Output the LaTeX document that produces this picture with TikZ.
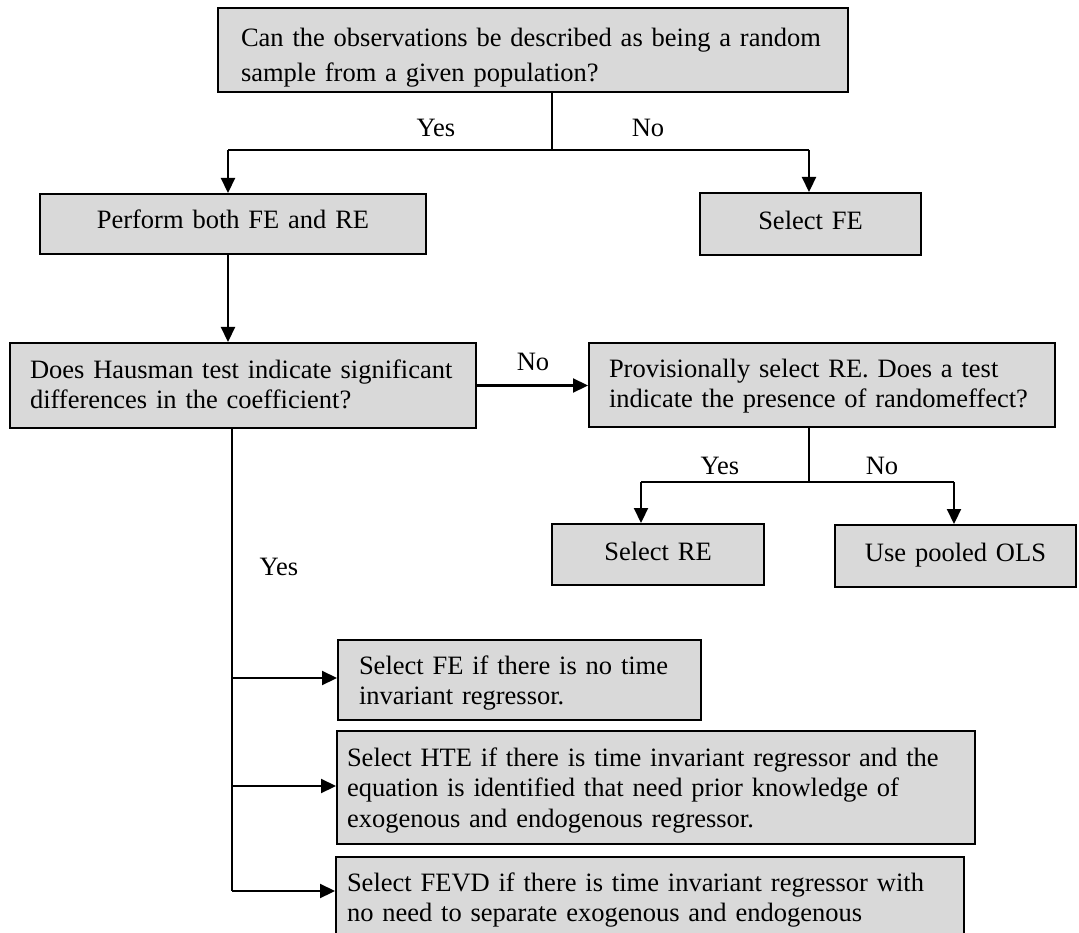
\documentclass[tikz,border=0pt]{standalone}
\usepackage{fontspec}
\setmainfont{Liberation Serif}
\usetikzlibrary{arrows.meta}
\definecolor{boxfill}{HTML}{D9D9D9}
\newcommand{\boxfont}{\fontsize{26.5}{30.7}\selectfont}
\tikzset{
 box/.style={draw, line width=2pt, fill=boxfill, anchor=north west, inner ysep=0pt, font=\boxfont},
 lbl/.style={font=\boxfont, inner sep=0pt},
 line/.style={line width=1.6pt},
 arr/.style={line width=2.2pt, -{Triangle[length=15pt,width=14pt]}},
}
\begin{document}
\begin{tikzpicture}[x=1pt,y=-1pt]
\clip (0,0) rectangle (1079,933);
%Boxes of the first question
\node [box, font=\fontsize{26.5}{35}\selectfont, text width=584pt, inner xsep=23pt, text height=39pt, text depth=45pt, align=left] (sample) at (217,7)
 {Can the observations be described as being a random\\sample from a given population?};
\node [box, text width=366pt, inner xsep=10pt, text height=35pt, text depth=25pt, align=center] (perform) at (39,193) {Perform both FE and RE};
\node [box, text width=201pt, inner xsep=10pt, text height=37pt, text depth=25pt, align=center] (selfe) at (699,192) {Select FE};
%Hausman test and the test for random effects
\node [box, text width=426pt, inner xsep=20pt, text height=35pt, text depth=50pt, align=left] (hausman) at (9,342)
 {Does Hausman test indicate significant\\differences in the coefficient?};
\node [box, text width=426pt, inner xsep=20pt, text height=34pt, text depth=50pt, align=left] (prov) at (588,342)
 {Provisionally select RE. Does a test\\indicate the presence of randomeffect?};
\node [box, text width=192pt, inner xsep=10pt, text height=36pt, text depth=25pt, align=center] (selre) at (551,523) {Select RE};
\node [box, text width=221pt, inner xsep=10pt, text height=36pt, text depth=26pt, align=center] (ols) at (834,524) {Use pooled OLS};
%Choices after a significant Hausman test
\node [box, text width=321pt, inner xsep=21pt, text height=34pt, text depth=46pt, align=left] (fe) at (337,639)
 {Select FE if there is no time\\invariant regressor.};
\node [box, text width=618pt, inner xsep=10pt, text height=35pt, text depth=78pt, align=left] (hte) at (336,730)
 {Select HTE if there is time invariant regressor and the\\equation is identified that need prior knowledge of\\exogenous and endogenous regressor.};
\node [box, text width=606pt, inner xsep=11pt, text height=34pt, text depth=66pt, align=left] (fevd) at (335,856)
 {Select FEVD if there is time invariant regressor with\\no need to separate exogenous and endogenous};
%Branch below the first question
\coordinate (split1) at (552,150);
\coordinate (split1l) at (228,150);
\coordinate (split1r) at (809,150);
\draw [line] (sample.south -| split1) -- (split1);
\draw [line] (split1l) -- (split1r);
\draw [arr] (split1l) -- (split1l |- perform.north);
\draw [arr] (split1r) -- (split1r |- selfe.north);
\node [lbl] (yes1) at (436,128) {Yes};
\node [lbl] (no1) at (648,128) {No};
%Perform both to Hausman
\draw [arr] (perform.south -| split1l) -- (split1l |- hausman.north);
%Hausman to provisional RE
\draw [arr] (hausman.east) -- (hausman.east -| prov.west);
\node [lbl] (no2) at (533,362) {No};
%Branch below the random effect test
\coordinate (split2) at (809,482);
\coordinate (split2l) at (641,482);
\coordinate (split2r) at (954,482);
\draw [line] (prov.south -| split2) -- (split2);
\draw [line] (split2l) -- (split2r);
\draw [arr] (split2l) -- (split2l |- selre.north);
\draw [arr] (split2r) -- (split2r |- ols.north);
\node [lbl] (yes2) at (720,466) {Yes};
\node [lbl] (no3) at (882,466) {No};
%Yes branch of the Hausman test
\coordinate (yfe) at (232,678);
\coordinate (yhte) at (232,786);
\coordinate (yfevd) at (232,891);
\draw [line] (hausman.south -| yfe) -- (yfevd);
\draw [arr] (yfe) -- (yfe -| fe.west);
\draw [arr] (yhte) -- (yhte -| hte.west);
\draw [arr] (yfevd) -- (yfevd -| fevd.west);
\node [lbl] (yes3) at (279,567) {Yes};
\end{tikzpicture}
\end{document}
